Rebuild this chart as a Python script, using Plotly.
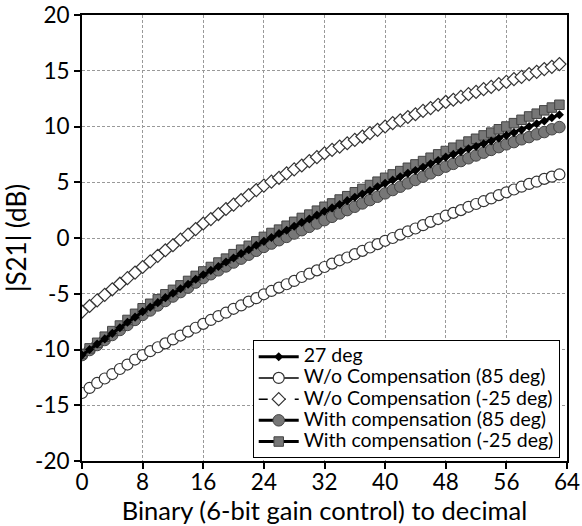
import plotly.graph_objects as go

x_codes = list(range(64))

deg27 = [-10.5, -10.0, -9.5, -9.05, -8.55, -8.05, -7.55, -7.1, -6.6,
         -6.2, -5.8, -5.35, -4.95, -4.55, -4.15, -3.7, -3.3,
         -2.9, -2.55, -2.15, -1.8, -1.4, -1.05, -0.65, -0.3,
         0.05, 0.4, 0.7, 1.05, 1.4, 1.7, 2.05, 2.4,
         2.7, 3.0, 3.35, 3.65, 3.95, 4.25, 4.6, 4.9,
         5.2, 5.5, 5.8, 6.05, 6.35, 6.65, 6.95, 7.25,
         7.5, 7.75, 8.0, 8.2, 8.45, 8.7, 8.95, 9.2,
         9.45, 9.7, 10.0, 10.25, 10.5, 10.8, 11.05]

wo_85 = [-13.9, -13.45, -13.0, -12.6, -12.2, -11.75, -11.35, -10.9, -10.5,
         -10.15, -9.8, -9.45, -9.1, -8.75, -8.4, -8.05, -7.7,
         -7.35, -7.0, -6.7, -6.35, -6.05, -5.7, -5.4, -5.05,
         -4.75, -4.45, -4.15, -3.85, -3.5, -3.2, -2.9, -2.6,
         -2.3, -2.0, -1.75, -1.45, -1.15, -0.85, -0.55, -0.25,
         0.0, 0.3, 0.6, 0.85, 1.15, 1.45, 1.7, 2.0,
         2.25, 2.5, 2.8, 3.05, 3.3, 3.55, 3.85, 4.1,
         4.35, 4.6, 4.85, 5.05, 5.3, 5.5, 5.7]

wo_m25 = [-6.6, -6.1, -5.6, -5.1, -4.6, -4.1, -3.6, -3.1, -2.6,
          -2.1, -1.6, -1.1, -0.65, -0.15, 0.3, 0.8, 1.3,
          1.7, 2.15, 2.6, 3.0, 3.4, 3.85, 4.3, 4.7,
          5.05, 5.4, 5.8, 6.15, 6.5, 6.9, 7.25, 7.6,
          7.9, 8.2, 8.5, 8.8, 9.1, 9.4, 9.7, 10.0,
          10.3, 10.55, 10.85, 11.1, 11.4, 11.65, 11.95, 12.2,
          12.4, 12.65, 12.9, 13.1, 13.35, 13.55, 13.8, 14.0,
          14.25, 14.45, 14.7, 14.9, 15.15, 15.35, 15.6]

with_85 = [-10.5, -10.05, -9.6, -9.15, -8.7, -8.25, -7.8, -7.35, -6.9,
           -6.5, -6.05, -5.65, -5.25, -4.85, -4.45, -4.0, -3.6,
           -3.25, -2.9, -2.55, -2.2, -1.85, -1.5, -1.15, -0.8,
           -0.5, -0.2, 0.1, 0.4, 0.7, 1.0, 1.3, 1.6,
           1.9, 2.2, 2.5, 2.8, 3.1, 3.4, 3.7, 4.0,
           4.3, 4.6, 4.9, 5.2, 5.5, 5.8, 6.1, 6.4,
           6.65, 6.9, 7.15, 7.4, 7.65, 7.9, 8.15, 8.4,
           8.6, 8.85, 9.05, 9.3, 9.5, 9.75, 9.95]

with_m25 = [-10.4, -9.9, -9.4, -8.85, -8.35, -7.85, -7.35, -6.8, -6.3,
            -5.9, -5.5, -5.05, -4.65, -4.25, -3.85, -3.4, -3.0,
            -2.6, -2.2, -1.85, -1.45, -1.05, -0.7, -0.3, 0.1,
            0.45, 0.75, 1.1, 1.45, 1.8, 2.1, 2.45, 2.8,
            3.1, 3.45, 3.75, 4.1, 4.4, 4.75, 5.05, 5.4,
            5.7, 6.0, 6.3, 6.6, 6.9, 7.2, 7.5, 7.8,
            8.1, 8.35, 8.65, 8.9, 9.2, 9.45, 9.75, 10.0,
            10.3, 10.6, 10.9, 11.15, 11.45, 11.7, 11.95]

x_ticks = [0, 8, 16, 24, 32, 40, 48, 56, 64]
y_ticks = [-20, -15, -10, -5, 0, 5, 10, 15, 20]
y_tick_labels = ["-20", "-15", "-10", "-5", "0", "5", "10", "15", "20"]

FONT = "Lato"
LEG_PX = 19.5


def leg(txt):
    return '<span style="font-size:%.1fpx">%s</span>' % (LEG_PX, txt)


fig = go.Figure()

fig.add_trace(go.Scatter(
    x=x_codes, y=wo_85, name=leg("W/o Compensation (85 deg)"), mode="lines+markers",
    line=dict(color="black", width=1.5),
    marker=dict(symbol="circle", size=11, color="white", line=dict(color="#333", width=1.2)),
    legendrank=2))
fig.add_trace(go.Scatter(
    x=x_codes, y=wo_m25, name=leg("W/o Compensation (-25 deg)"), mode="lines+markers",
    line=dict(color="black", width=1.5, dash="dash"),
    marker=dict(symbol="diamond", size=10, color="white", line=dict(color="#333", width=1.2)),
    legendrank=3))
fig.add_trace(go.Scatter(
    x=x_codes, y=with_85, name=leg("With compensation (85 deg)"), mode="lines+markers",
    line=dict(color="black", width=3),
    marker=dict(symbol="circle", size=11.5, color="#777", line=dict(color="#444", width=1)),
    legendrank=4))
fig.add_trace(go.Scatter(
    x=x_codes, y=with_m25, name=leg("With compensation (-25 deg)"), mode="lines+markers",
    line=dict(color="black", width=3),
    marker=dict(symbol="square", size=9.5, color="#777", line=dict(color="#444", width=1)),
    legendrank=5))
fig.add_trace(go.Scatter(
    x=x_codes, y=deg27, name=leg("27 deg"), mode="lines+markers",
    line=dict(color="black", width=3),
    marker=dict(symbol="diamond", size=7, color="black"),
    legendrank=1))

axis_common = dict(
    showline=True, linecolor="black", linewidth=2, mirror=True,
    ticks="outside", ticklen=6, tickwidth=1.5, tickcolor="black",
    showgrid=True, gridcolor="#999", griddash="3px,2px", gridwidth=1,
    zeroline=False, automargin=False,
    tickfont=dict(family=FONT, size=22.5, color="black"),
)

fig.update_xaxes(range=[0, 64], tickvals=x_ticks, ticklabelstandoff=-6,
                 title=dict(text="Binary (6-bit gain control) to decimal",
                            font=dict(family=FONT, size=25.5, color="black"), standoff=0),
                 **axis_common)
fig.update_yaxes(range=[-20, 20], tickvals=y_ticks, ticktext=y_tick_labels,
                 title=dict(text="|S21| (dB)",
                            font=dict(family=FONT, size=26, color="black"), standoff=4),
                 **axis_common)

fig.update_layout(
    width=582, height=526,
    margin=dict(l=82, r=15, t=15, b=65),
    plot_bgcolor="white", paper_bgcolor="white",
    legend=dict(x=0.352, y=0.271, xanchor="left", yanchor="top",
                bgcolor="white", bordercolor="black", borderwidth=1,
                font=dict(family=FONT, size=14, color="black"),
                tracegroupgap=0, itemwidth=40),
)

fig.write_html("out.html")
